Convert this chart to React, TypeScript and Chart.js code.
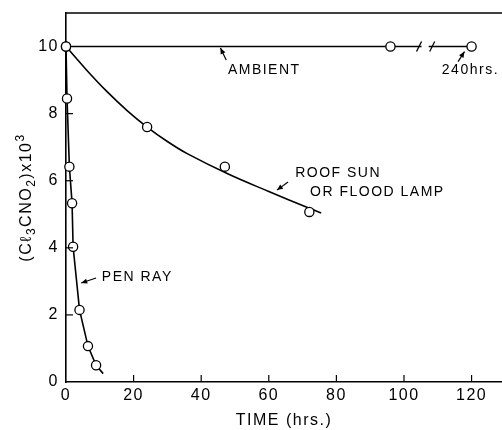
import React, { useEffect, useRef } from 'react';
import { Chart, registerables } from 'chart.js';

Chart.register(...registerables);

// ---- data (hours, concentration x10^3) ----
const ambientTimes = [0, 96, 120];
const ambientValues = [10, 10, 10];

// measured points (open circles)
const roofTimes = [24, 47, 72];
const roofValues = [7.6, 6.42, 5.07];
// drawn smooth curve
const roofCurveTimes = [0, 6, 12, 18, 24, 30, 36, 48, 60, 72, 75.5];
const roofCurveValues = [10, 9.31, 8.67, 8.1, 7.6, 7.17, 6.8, 6.2, 5.68, 5.18, 5.04];

const penTimes = [0, 0.3, 1.0, 1.8, 2.1, 4.0, 6.5, 8.9, 11];
const penValues = [10, 8.45, 6.42, 5.33, 4.03, 2.15, 1.07, 0.5, 0.25];
const penMarkers = [1, 1, 1, 1, 1, 1, 1, 1, 0];

const xTickValues = [0, 20, 40, 60, 80, 100, 120];
const yTickValues = [0, 2, 4, 6, 8, 10];

const xTitle = 'TIME (hrs.)';
// y title pieces: [text, kind] kind: n = normal, s = subscript, p = superscript
const yTitleParts: [string, string][] = [
  ['(C', 'n'],
  ['\u2113', 'n'],
  ['3', 's'],
  ['CNO', 'n'],
  ['2', 's'],
  [')x10', 'n'],
  ['3', 'p'],
];

// annotation labels (data coordinates)
const labelTexts = ['AMBIENT', '240hrs.', 'ROOF SUN', 'OR FLOOD LAMP', 'PEN RAY'];
const labelX = [47.9, 111.2, 67.8, 72.2, 10.6];
const labelY = [9.3, 9.3, 6.22, 5.67, 3.13];
// arrows: tail -> head
const arrowTailX = [47.4, 116.0, 65.7, 8.9];
const arrowTailY = [9.6, 9.55, 5.96, 3.1];
const arrowHeadX = [45.7, 117.9, 62.4, 4.5];
const arrowHeadY = [9.96, 9.85, 5.72, 2.95];
// axis break on ambient line
const breakFrom = 104.3;
const breakTo = 108.2;

const FONT = "'Liberation Sans', Arial, sans-serif";

function toPoints(xs: number[], ys: number[]) {
  return xs.map((x, i) => ({ x, y: ys[i] }));
}

const decorPlugin = {
  id: 'decor',
  beforeDraw(chart: any) {
    (chart.ctx as any).letterSpacing = '1.5px';
  },
  afterDatasetsDraw(chart: any) {
    const { ctx, scales } = chart;
    const xs = scales.x;
    const ys = scales.y;
    const y10 = ys.getPixelForValue(10);
    const a = xs.getPixelForValue(breakFrom);
    const b = xs.getPixelForValue(breakTo);
    ctx.save();
    ctx.fillStyle = '#fff';
    ctx.fillRect(a + 3, y10 - 3, b - a - 6, 6);
    ctx.strokeStyle = '#000';
    ctx.lineWidth = 1.3;
    [a, b].forEach((px) => {
      ctx.beginPath();
      ctx.moveTo(px - 2, y10 + 5);
      ctx.lineTo(px + 3, y10 - 5);
      ctx.stroke();
    });
    ctx.restore();
  },
  afterDraw(chart: any) {
    const { ctx, chartArea, scales } = chart;
    const xs = scales.x;
    const ys = scales.y;
    ctx.save();
    ctx.strokeStyle = '#000';
    ctx.lineWidth = 1.6;
    // top frame line
    ctx.beginPath();
    ctx.moveTo(chartArea.left, chartArea.top);
    ctx.lineTo(chartArea.right, chartArea.top);
    ctx.stroke();
    // inward ticks
    ctx.lineWidth = 1.2;
    xs.ticks.forEach((t: any) => {
      if (t.value === 0) return;
      const px = xs.getPixelForValue(t.value);
      ctx.beginPath();
      ctx.moveTo(px, chartArea.bottom);
      ctx.lineTo(px, chartArea.bottom - 7);
      ctx.stroke();
    });
    ys.ticks.forEach((t: any) => {
      if (t.value === 0 || t.value === 10) return;
      const py = ys.getPixelForValue(t.value);
      ctx.beginPath();
      ctx.moveTo(chartArea.left, py);
      ctx.lineTo(chartArea.left + 7, py);
      ctx.stroke();
    });
    // annotation labels
    ctx.fillStyle = '#000';
    ctx.font = `14px ${FONT}`;
    ctx.textBaseline = 'middle';
    ctx.textAlign = 'left';
    (ctx as any).letterSpacing = '1.5px';
    labelTexts.forEach((t, i) => {
      ctx.fillText(t, xs.getPixelForValue(labelX[i]), ys.getPixelForValue(labelY[i]));
    });
    // y axis title (rotated, with sub/superscripts)
    ctx.save();
    ctx.translate(25, (chartArea.top + chartArea.bottom) / 2);
    ctx.rotate(-Math.PI / 2);
    ctx.textBaseline = 'alphabetic';
    ctx.textAlign = 'left';
    (ctx as any).letterSpacing = '1.5px';
    const fontFor = (k: string) => (k === 'n' ? `16px ${FONT}` : `12px ${FONT}`);
    let total = 0;
    yTitleParts.forEach(([t, k]) => {
      ctx.font = fontFor(k);
      total += ctx.measureText(t).width;
    });
    let cx = -total / 2;
    yTitleParts.forEach(([t, k]) => {
      ctx.font = fontFor(k);
      const dy = k === 's' ? 10 : k === 'p' ? -1 : 6;
      ctx.fillText(t, cx, dy);
      cx += ctx.measureText(t).width;
    });
    ctx.restore();
    // arrows
    ctx.lineWidth = 1.2;
    arrowTailX.forEach((_, i) => {
      const x1 = xs.getPixelForValue(arrowTailX[i]);
      const y1 = ys.getPixelForValue(arrowTailY[i]);
      const x2 = xs.getPixelForValue(arrowHeadX[i]);
      const y2 = ys.getPixelForValue(arrowHeadY[i]);
      const ang = Math.atan2(y2 - y1, x2 - x1);
      ctx.beginPath();
      ctx.moveTo(x1, y1);
      ctx.lineTo(x2, y2);
      ctx.stroke();
      const L = 6;
      const W = 2.6;
      ctx.beginPath();
      ctx.moveTo(x2, y2);
      ctx.lineTo(x2 - L * Math.cos(ang) + W * Math.sin(ang), y2 - L * Math.sin(ang) - W * Math.cos(ang));
      ctx.lineTo(x2 - L * Math.cos(ang) - W * Math.sin(ang), y2 - L * Math.sin(ang) + W * Math.cos(ang));
      ctx.closePath();
      ctx.fill();
    });
    ctx.restore();
    (ctx as any).letterSpacing = '0px';
  },
};

function lineDataset(
  label: string,
  xs: number[],
  ys: number[],
  markers: number[] | null,
  tension: number,
  showLine: boolean
) {
  const radius = markers ? markers.map((m) => (m ? 4.6 : 0)) : 0;
  return {
    label,
    data: toPoints(xs, ys),
    showLine,
    borderColor: '#000',
    borderWidth: 1.6,
    backgroundColor: '#fff',
    pointBackgroundColor: '#fff',
    pointBorderColor: '#000',
    pointBorderWidth: 1.3,
    pointRadius: radius,
    pointHoverRadius: radius,
    tension,
    clip: false,
    fill: false,
  };
}

export default function App() {
  const ref = useRef<HTMLCanvasElement | null>(null);
  useEffect(() => {
    if (!ref.current) return;
    const chart = new Chart(ref.current, {
      type: 'line',
      data: {
        datasets: [
          lineDataset('Ambient', ambientTimes, ambientValues, ambientTimes.map(() => 1), 0, true),
          lineDataset('Roof sun or flood lamp (data)', roofTimes, roofValues, roofTimes.map(() => 1), 0, false),
          lineDataset('Pen Ray', penTimes, penValues, penMarkers, 0, true),
          lineDataset('Roof sun or flood lamp (curve)', roofCurveTimes, roofCurveValues, null, 0.4, true),
        ] as any,
      },
      options: {
        animation: false,
        responsive: false,
        events: [],
        layout: { autoPadding: false, padding: { top: 13, right: 0, left: 0, bottom: 0 } },
        plugins: { legend: { display: false }, tooltip: { enabled: false } },
        scales: {
          x: {
            type: 'linear',
            min: 0,
            max: 129,
            afterBuildTicks: (s: any) => {
              s.ticks = xTickValues.map((v) => ({ value: v }));
            },
            afterFit: (s: any) => {
              s.height = 48;
              s.paddingLeft = 0;
              s.paddingRight = 0;
            },
            grid: { display: false, drawTicks: false },
            border: { display: true, color: '#000', width: 1.6 },
            ticks: { color: '#000', font: { family: FONT, size: 16 }, padding: 4, maxRotation: 0 },
            title: {
              display: true,
              text: xTitle,
              color: '#000',
              font: { family: FONT, size: 16 },
              padding: { top: 0, bottom: 0 },
            },
          },
          y: {
            type: 'linear',
            min: 0,
            max: 11,
            afterBuildTicks: (s: any) => {
              s.ticks = yTickValues.map((v) => ({ value: v }));
            },
            afterFit: (s: any) => {
              s.width = 66;
              s.paddingTop = 0;
              s.paddingBottom = 0;
            },
            grid: { display: false, drawTicks: false },
            border: { display: true, color: '#000', width: 1.6 },
            ticks: { color: '#000', font: { family: FONT, size: 16 }, padding: 7 },
            title: { display: false },
          },
        },
      } as any,
      plugins: [decorPlugin],
    });
    return () => chart.destroy();
  }, []);
  return (
    <div style={{ position: 'fixed', left: 0, top: 0, width: 502, height: 430, background: '#fff' }}>
      <canvas ref={ref} width={502} height={430} style={{ display: 'block', width: 502, height: 430 }} />
    </div>
  );
}
